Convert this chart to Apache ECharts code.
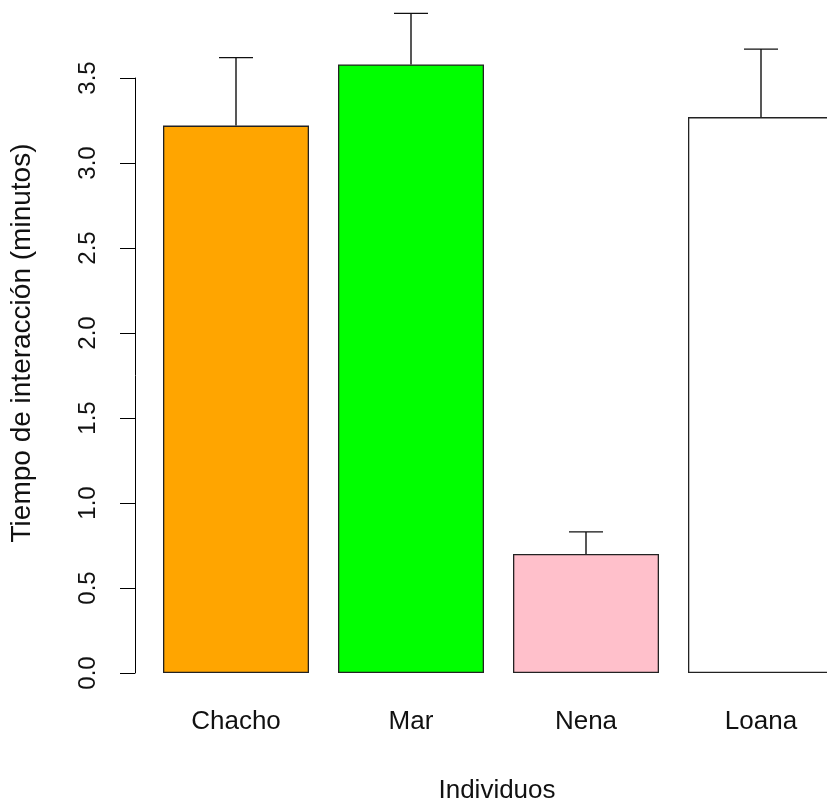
<!DOCTYPE html>
<html>
<head>
<meta charset="utf-8">
<script src="https://cdn.jsdelivr.net/npm/echarts@6/dist/echarts.min.js"></script>
<style>
html,body{margin:0;padding:0;background:#fff;overflow:hidden;}
#chart{width:900px;height:807px;}
</style>
</head>
<body>
<div id="chart"></div>
<script>
// Data
const categories = ['Chacho', 'Mar', 'Nena', 'Loana'];
const means = [3.22, 3.58, 0.70, 3.27];
const errors = [0.40, 0.30, 0.13, 0.40];
const barColors = ['#FFA500', '#00FF00', '#FFC0CB', '#FFFFFF'];
const yTicks = [0, 0.5, 1.0, 1.5, 2.0, 2.5, 3.0, 3.5];
const yLabel = 'Tiempo de interacción (minutos)';
const xLabel = 'Individuos';

const FONT = '"Liberation Sans", Arial, sans-serif';
const chart = echarts.init(document.getElementById('chart'), null, {renderer: 'canvas'});

const option = {
  animation: false,
  backgroundColor: '#fff',
  grid: {left: 148.5, top: 78, width: 700, height: 595, containLabel: false},
  xAxis: {
    type: 'category',
    data: categories,
    axisLine: {show: false},
    axisTick: {show: false},
    axisLabel: {color: '#111', fontFamily: FONT, fontSize: 26, margin: 36}
  },
  yAxis: {
    type: 'value',
    min: yTicks[0],
    max: yTicks[yTicks.length - 1],
    interval: 0.5,
    offset: 13.5,
    splitLine: {show: false},
    axisLine: {show: true, lineStyle: {color: '#000', width: 1}},
    axisTick: {show: true, length: 15, lineStyle: {color: '#000', width: 1}},
    axisLabel: {
      color: '#111', fontFamily: FONT, fontSize: 24, rotate: 90, margin: 35,
      formatter: v => v.toFixed(1)
    }
  },
  series: [
    {
      type: 'bar',
      barWidth: 146,
      clip: false,
      data: means.map((m, i) => ({
        value: m,
        itemStyle: {color: barColors[i], borderColor: '#222', borderWidth: 1.3}
      }))
    },
    {
      type: 'custom',
      clip: false,
      z: 5,
      data: means.map((m, i) => [i, m, m + errors[i]]),
      renderItem: function (params, api) {
        const x = api.value(0);
        const lo = api.coord([x, api.value(1)]);
        const hi = api.coord([x, api.value(2)]);
        const hw = 17;
        const style = {stroke: '#111', lineWidth: 1.4};
        return {
          type: 'group',
          children: [
            {type: 'line', shape: {x1: lo[0], y1: lo[1], x2: hi[0], y2: hi[1]}, style: style},
            {type: 'line', shape: {x1: hi[0] - hw, y1: hi[1], x2: hi[0] + hw, y2: hi[1]}, style: style}
          ]
        };
      }
    }
  ],
  graphic: [
    {
      type: 'text', x: 22, y: 343, rotation: Math.PI / 2,
      style: {text: yLabel, fill: '#111', font: '28px ' + FONT, textAlign: 'center', textVerticalAlign: 'middle'}
    },
    {
      type: 'text', x: 497, y: 791,
      style: {text: xLabel, fill: '#111', font: '26px ' + FONT, textAlign: 'center', textVerticalAlign: 'middle'}
    }
  ]
};
chart.setOption(option);
</script>
</body>
</html>
